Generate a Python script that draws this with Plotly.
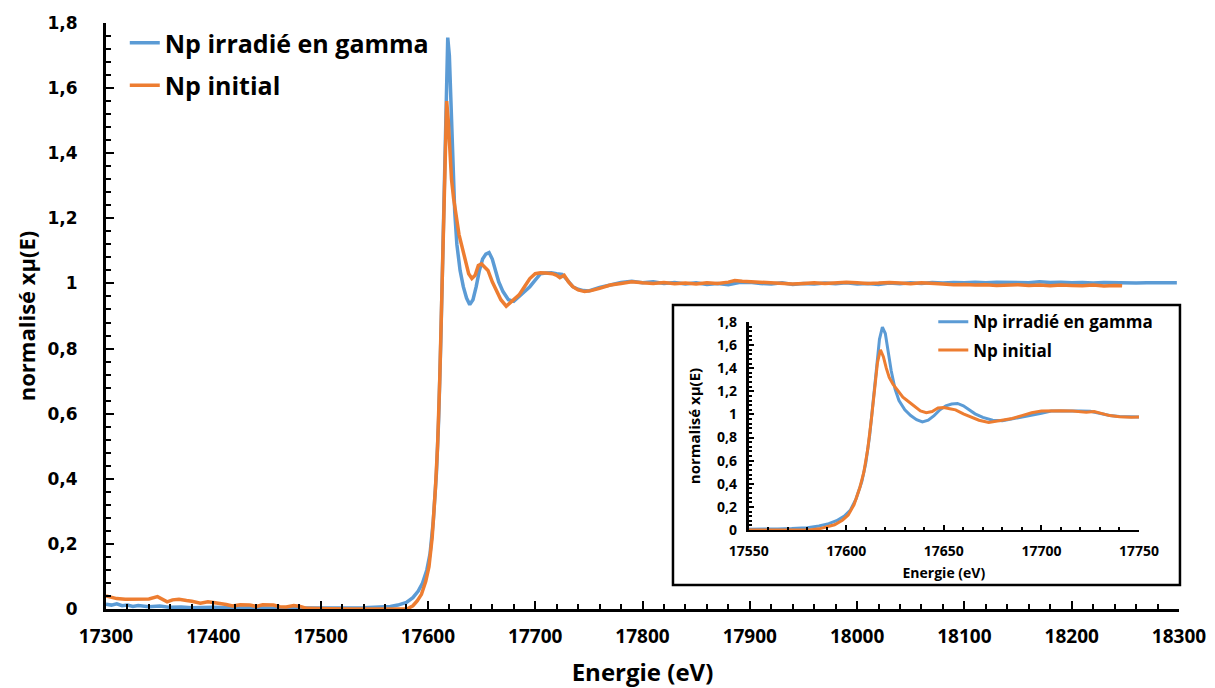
import plotly.graph_objects as go

# Np irradié en gamma (energy in eV, normalised xmu(E))
e_irr = [17300, 17305, 17310, 17315, 17320, 17325, 17330, 17340, 17350, 17360,
         17370, 17380, 17400, 17420, 17440, 17460, 17480, 17500, 17520, 17540,
         17555, 17565, 17572, 17580, 17586, 17591, 17595, 17599, 17602, 17605,
         17608, 17610, 17612, 17614, 17615.5, 17617, 17618.5, 17620, 17621.5, 17623,
         17625, 17627, 17630, 17633, 17636, 17639, 17642, 17645, 17648, 17651,
         17654, 17657, 17660, 17663, 17666, 17670, 17675, 17680, 17685, 17690,
         17695, 17700, 17705, 17710, 17715, 17720, 17725, 17730, 17735, 17740,
         17745, 17750, 17760, 17770, 17780, 17790, 17800, 17810, 17820, 17830,
         17840, 17850, 17860, 17870, 17880, 17890, 17900, 17910, 17920, 17930,
         17940, 17950, 17960, 17970, 17980, 17990, 18000, 18010, 18020, 18030,
         18040, 18050, 18060, 18070, 18080, 18090, 18100, 18110, 18120, 18130,
         18140, 18150, 18160, 18170, 18180, 18190, 18200, 18210, 18220, 18230,
         18240, 18250, 18260, 18270, 18280, 18290, 18298]
mu_irr = [0.015, 0.012, 0.016, 0.010, 0.012, 0.008, 0.011, 0.007, 0.009, 0.005,
          0.006, 0.004, 0.005, 0.003, 0.004, 0.002, 0.003, 0.002, 0.003, 0.004,
          0.005, 0.008, 0.012, 0.020, 0.035, 0.055, 0.080, 0.12, 0.17, 0.27,
          0.42, 0.58, 0.82, 1.12, 1.40, 1.65, 1.755, 1.70, 1.55, 1.38,
          1.22, 1.12, 1.04, 0.99, 0.955, 0.935, 0.95, 0.99, 1.04, 1.075,
          1.09, 1.095, 1.075, 1.04, 1.005, 0.975, 0.95, 0.945, 0.96, 0.975,
          0.99, 1.01, 1.03, 1.032, 1.033, 1.03, 1.028, 1.01, 0.99, 0.982,
          0.978, 0.977, 0.988, 0.995, 1.003, 1.007, 1.002, 1.005, 1.0, 1.003,
          0.998, 1.002, 0.997, 1.0, 0.996, 1.003, 1.004, 1.0, 0.998, 1.002,
          0.997, 1.0, 0.998, 1.001, 0.999, 1.002, 0.998, 1.0, 0.997, 1.001,
          0.999, 1.002, 1.0, 1.003, 1.001, 1.003, 1.002, 1.004, 1.002, 1.004,
          1.003, 1.004, 1.002, 1.005, 1.003, 1.004, 1.002, 1.003, 1.001, 1.003,
          1.002, 1.003, 1.001, 1.002, 1.002, 1.003, 1.002]

# Np initial
e_ini = [17300, 17305, 17310, 17318, 17325, 17332, 17340, 17348, 17353, 17357,
         17362, 17368, 17375, 17380, 17388, 17395, 17400, 17406, 17412, 17418,
         17425, 17434, 17440, 17446, 17456, 17462, 17468, 17475, 17481, 17487,
         17495, 17510, 17530, 17550, 17570, 17581, 17586, 17590, 17594, 17598,
         17601, 17604, 17607, 17609, 17611, 17613, 17614.5, 17616, 17617.5, 17619,
         17620.5, 17622, 17624, 17626.5, 17629, 17632, 17635, 17638, 17641, 17644,
         17647, 17650, 17653, 17656, 17660, 17664, 17668, 17673, 17678, 17685,
         17690, 17695, 17700, 17705, 17710, 17716, 17720, 17723, 17727, 17731,
         17735, 17740, 17746, 17752, 17760, 17770, 17780, 17790, 17800, 17810,
         17820, 17830, 17840, 17850, 17860, 17870, 17880, 17886, 17893, 17900,
         17910, 17920, 17930, 17940, 17950, 17960, 17970, 17980, 17990, 18000,
         18010, 18020, 18030, 18040, 18050, 18060, 18070, 18080, 18090, 18100,
         18110, 18120, 18130, 18140, 18150, 18160, 18170, 18180, 18190, 18200,
         18210, 18220, 18230, 18240, 18247]
mu_ini = [0.040, 0.036, 0.032, 0.030, 0.031, 0.030, 0.031, 0.038, 0.030, 0.022,
          0.028, 0.030, 0.026, 0.024, 0.018, 0.022, 0.020, 0.018, 0.014, 0.009,
          0.013, 0.012, 0.008, 0.013, 0.012, 0.007, 0.006, 0.011, 0.008, 0.002,
          0.001, 0.001, 0.000, 0.001, 0.000, 0.001, 0.010, 0.025, 0.045, 0.085,
          0.13, 0.22, 0.37, 0.50, 0.70, 0.98, 1.22, 1.45, 1.56, 1.50,
          1.40, 1.32, 1.26, 1.20, 1.15, 1.11, 1.07, 1.03, 1.015, 1.025,
          1.055, 1.06, 1.05, 1.04, 1.005, 0.975, 0.95, 0.93, 0.945, 0.965,
          0.99, 1.015, 1.03, 1.033, 1.032, 1.03, 1.025, 1.018, 1.025, 1.005,
          0.99, 0.98, 0.975, 0.978, 0.985, 0.995, 1.0, 1.005, 1.002, 1.0,
          1.003, 0.999, 1.001, 0.998, 1.002, 1.0, 1.004, 1.009, 1.007, 1.006,
          1.004, 1.003, 1.0, 0.998, 1.0, 1.002, 1.0, 1.003, 1.004, 1.002,
          1.0, 1.001, 1.003, 1.001, 0.999, 1.002, 1.001, 0.998, 0.996, 0.997,
          0.995, 0.996, 0.994, 0.995, 0.996, 0.994, 0.995, 0.993, 0.995, 0.994,
          0.993, 0.995, 0.992, 0.994, 0.993]

names = ["Np irradié en gamma", "Np initial"]
colors = ["#5B9BD5", "#ED7D31"]

fig = go.Figure()

# main chart
for name, col, xs, ys in zip(names, colors, [e_irr, e_ini], [mu_irr, mu_ini]):
    fig.add_trace(go.Scatter(x=xs, y=ys, mode="lines", name=name, legendgroup=name,
                             line=dict(color=col, width=3.5)))

# inset (same data, zoomed on the edge)
for name, col, xs, ys in zip(names, colors, [e_irr, e_ini], [mu_irr, mu_ini]):
    fig.add_trace(go.Scatter(x=xs, y=ys, mode="lines", name=name, legendgroup=name + "2",
                             xaxis="x2", yaxis="y2", legend="legend2",
                             line=dict(color=col, width=3)))

tick_x = dict(family="Open Sans", size=19, color="black", weight="bold")
tick_y = dict(family="DejaVu Sans", size=17, color="black", weight="bold")
small = dict(family="Open Sans", size=14, color="black", weight="bold")

# the page body adds an 8 px margin, so the figure is 8 px smaller than the window
fig.update_layout(
    width=1207, height=680,
    margin=dict(l=98, r=36, t=13, b=79),
    paper_bgcolor="white", plot_bgcolor="white",
    separators=", ",
    showlegend=True,
    xaxis=dict(
        range=[17300, 18300], dtick=100, tickformat="d", automargin=False,
        showgrid=False, zeroline=False,
        showline=True, linecolor="black", linewidth=3,
        ticks="inside", ticklen=8, tickwidth=2, tickcolor="black",
        minor=dict(dtick=20, ticks="inside", ticklen=5, tickwidth=2, tickcolor="black"),
        tickfont=tick_x, ticklabelstandoff=8,
        title=dict(text="Energie (eV)", standoff=18,
                   font=dict(family="Open Sans", size=24, color="black", weight="bold")),
    ),
    yaxis=dict(
        range=[0, 1.8], dtick=0.2, automargin=False,
        showgrid=False, zeroline=False,
        showline=True, linecolor="black", linewidth=3,
        ticks="inside", ticklen=8, tickwidth=2, tickcolor="black",
        minor=dict(dtick=0.04, ticks="inside", ticklen=5, tickwidth=2, tickcolor="black"),
        tickfont=tick_y, ticklabelstandoff=22,
        title=dict(text="normalisé xµ(E)", standoff=6,
                   font=dict(family="Open Sans", size=22, color="black", weight="bold")),
    ),
    xaxis2=dict(
        domain=[0.599, 0.9627], anchor="y2", automargin=False,
        range=[17550, 17750], dtick=50, tickformat="d",
        showgrid=False, zeroline=False,
        showline=True, linecolor="black", linewidth=2,
        ticks="inside", ticklen=5, tickwidth=2, tickcolor="black",
        minor=dict(dtick=10, ticks="inside", ticklen=3, tickwidth=2, tickcolor="black"),
        tickfont=small, ticklabelstandoff=7,
        title=dict(text="Energie (eV)", standoff=9, font=small),
    ),
    yaxis2=dict(
        domain=[0.1348, 0.4898], anchor="x2", automargin=False,
        range=[0, 1.8], dtick=0.2,
        showgrid=False, zeroline=False,
        showline=True, linecolor="black", linewidth=3,
        ticks="inside", ticklen=5, tickwidth=2, tickcolor="black",
        minor=dict(dtick=0.04, ticks="inside", ticklen=3, tickwidth=2, tickcolor="black"),
        tickfont=small, ticklabelstandoff=6,
        title=dict(text="normalisé xµ(E)", standoff=13,
                   font=dict(family="Open Sans", size=15, color="black", weight="bold")),
    ),
    legend=dict(
        x=0.0175, y=1.005, xanchor="left", yanchor="top",
        bgcolor="rgba(0,0,0,0)", tracegroupgap=7,
        font=dict(family="Open Sans", size=25, color="black", weight="bold"),
    ),
    legend2=dict(
        x=0.771, y=0.52, xanchor="left", yanchor="top",
        bgcolor="rgba(0,0,0,0)", tracegroupgap=3,
        font=dict(family="Open Sans", size=17, color="black", weight="bold"),
    ),
    shapes=[dict(type="rect", xref="paper", yref="paper",
                 x0=0.5284, x1=1.0009, y0=0.041, y1=0.5188,
                 line=dict(color="black", width=2.5), fillcolor="white", layer="below")],
)

fig.write_html("out.html")
